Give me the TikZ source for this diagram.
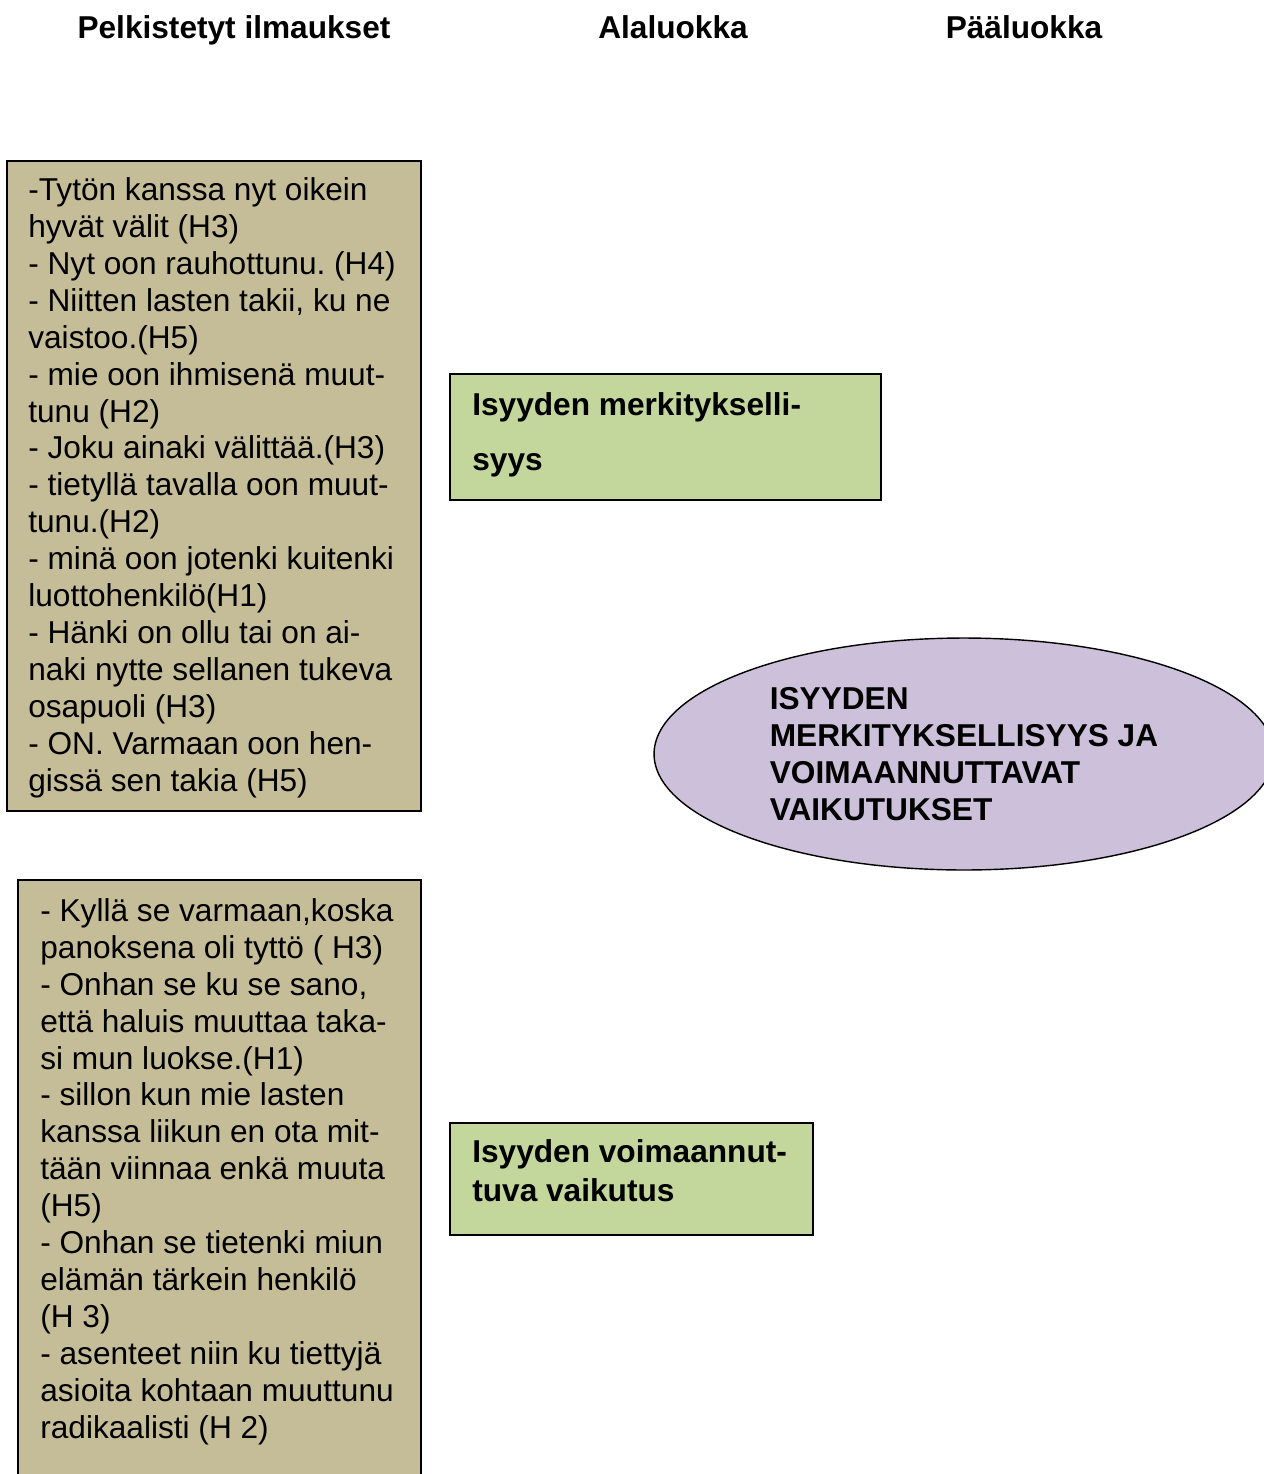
\documentclass[tikz,border=0pt]{standalone}
\usepackage{fontspec}
\setmainfont{Liberation Sans}
\frenchspacing
\definecolor{TanColor}{HTML}{C4BD97}
\definecolor{GreenColor}{HTML}{C3D69B}
\definecolor{LilacColor}{HTML}{CCC0DA}
\usetikzlibrary{shapes.geometric}
\tikzset{
  heading/.style={anchor=base, inner sep=0pt, font=\fontsize{18}{21}\selectfont\bfseries},
  quote box/.style={fill=TanColor, draw=black, line width=0.8pt},
  quote text/.style={anchor=base west, align=left, inner sep=0pt, font=\fontsize{18}{21}\selectfont},
  sub box/.style={fill=GreenColor, draw=black, line width=0.8pt},
  sub text/.style={anchor=base west, align=left, inner sep=0pt, font=\fontsize{18}{22.2}\selectfont\bfseries},
  main class/.style={ellipse, fill=LilacColor, draw=black, line width=0.8pt, minimum width=12.4cm, minimum height=4.64cm, inner sep=0pt, align=left, font=\fontsize{18}{21}\selectfont\bfseries}
}

\begin{document}
\begin{tikzpicture}[x=0.02cm, y=-0.02cm]
  \useasboundingbox (0,0) rectangle (1264,1474);
  \clip (0,0) rectangle (1264,1474);

  % Column headings
  \node[heading] (hPelk) at (234,38) {Pelkistetyt ilmaukset};
  \node[heading] (hAla) at (673,38) {Alaluokka};
  \node[heading] (hPaa) at (1024,38) {Pääluokka};

  % Reduced expressions, upper group (anchored at last baseline)
  \filldraw[quote box] (7,161) rectangle (421,811);
  \node[quote text] (quotesA) at (28,791) {-Tytön kanssa nyt oikein\\
    hyvät välit (H3)\\
    - Nyt oon rauhottunu. (H4)\\
    - Niitten lasten takii, ku ne\\
    vaistoo.(H5)\\
    - mie oon ihmisenä muut-\\
    tunu (H2)\\
    - Joku ainaki välittää.(H3)\\
    - tietyllä tavalla oon muut-\\
    tunu.(H2)\\
    - minä oon jotenki kuitenki\\
    luottohenkilö(H1)\\
    - Hänki on ollu tai on ai-\\
    naki nytte sellanen tukeva\\
    osapuoli (H3)\\
    - ON. Varmaan oon hen-\\
    gissä sen takia (H5)};

  % Reduced expressions, lower group
  \filldraw[quote box] (18,880) rectangle (421,1490);
  \node[quote text] (quotesB) at (40,1438) {- Kyllä se varmaan,koska\\
    panoksena oli tyttö ( H3)\\
    - Onhan se ku se sano,\\
    että haluis muuttaa taka-\\
    si mun luokse.(H1)\\
    - sillon kun mie lasten\\
    kanssa liikun en ota mit-\\
    tään viinnaa enkä muuta\\
    (H5)\\
    - Onhan se tietenki miun\\
    elämän tärkein henkilö\\
    (H 3)\\
    - asenteet niin ku tiettyjä\\
    asioita kohtaan muuttunu\\
    radikaalisti (H 2)};

  % Subcategories
  \filldraw[sub box] (450,374) rectangle (881,500);
  \node[sub text, font=\fontsize{18}{31.3}\selectfont\bfseries] (subA) at (472,470) {Isyyden merkitykselli-\\syys};
  \filldraw[sub box] (450,1123) rectangle (813,1235);
  \node[sub text] (subB) at (472,1201) {Isyyden voimaannut-\\tuva vaikutus};

  % Main category
  \node[main class] (mainClass) at (964,754) {ISYYDEN\\
    MERKITYKSELLISYYS JA\\
    VOIMAANNUTTAVAT\\
    VAIKUTUKSET};
\end{tikzpicture}
\end{document}
